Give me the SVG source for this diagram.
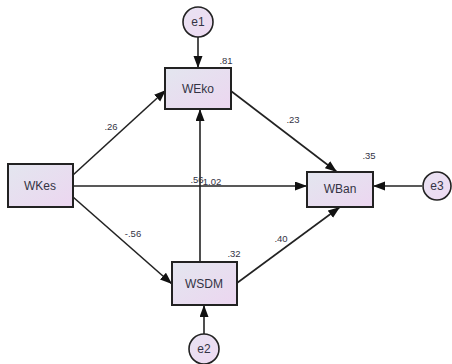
<svg xmlns="http://www.w3.org/2000/svg" width="452" height="364" viewBox="0 0 452 364">
  <defs>
    <linearGradient id="boxFill" x1="0" y1="0" x2="1" y2="1">
      <stop offset="0" stop-color="#e3e6ef"/>
      <stop offset="1" stop-color="#ecd6f0"/>
    </linearGradient>
    <linearGradient id="circFill" x1="0" y1="0" x2="1" y2="1">
      <stop offset="0" stop-color="#e8e2f2"/>
      <stop offset="1" stop-color="#eedaf2"/>
    </linearGradient>
    <marker id="arr" markerUnits="userSpaceOnUse" markerWidth="13" markerHeight="10" refX="12" refY="4.5" orient="auto">
      <path d="M0,0 L12,4.5 L0,9 z" fill="#111"/>
    </marker>
    <style>
      .box { fill: url(#boxFill); stroke: #222; stroke-width: 2; }
      .circ { fill: url(#circFill); stroke: #222; stroke-width: 1.6; }
      .lbl { font-family: "Liberation Sans", Arial, sans-serif; font-size: 12px; fill: #333344; text-anchor: middle; dominant-baseline: central; }
      .num { font-family: "Liberation Sans", Arial, sans-serif; font-size: 9.5px; fill: #333344; text-anchor: middle; dominant-baseline: central; }
      .edge { stroke: #222; stroke-width: 1.6; fill: none; marker-end: url(#arr); }
      .line { stroke: #222; stroke-width: 1.6; fill: none; }
    </style>
  </defs>

  <g id="connectors">
    <line class="edge" x1="198" y1="37" x2="198" y2="68"/>
    <line class="edge" x1="204" y1="334" x2="204" y2="305"/>
    <line class="edge" x1="422" y1="186" x2="373" y2="186"/>
    <line class="edge" x1="73" y1="175" x2="166" y2="90"/>
    <line class="edge" x1="73" y1="186" x2="307" y2="186"/>
    <line class="edge" x1="73" y1="197" x2="172" y2="284"/>
    <line class="edge" x1="200" y1="262" x2="200" y2="109"/>
    <line class="edge" x1="231" y1="91" x2="337" y2="172"/>
    <line class="edge" x1="237" y1="283" x2="340" y2="207"/>
    <text class="num" x="111" y="126">.26</text>
    <text class="num" x="133" y="233">-.56</text>
    <text class="num" x="197" y="179">.56</text>
    <text class="num" x="212" y="181">1.02</text>
    <text class="num" x="293" y="119">.23</text>
    <text class="num" x="281" y="238">.40</text>
  </g>

  <g id="e1">
    <circle class="circ" cx="198" cy="22" r="15"/>
    <text class="lbl" x="198" y="22">e1</text>
  </g>
  <g id="WEko">
    <rect class="box" x="165" y="68" width="66" height="41"/>
    <text class="lbl" x="198" y="89">WEko</text>
    <text class="num" x="226" y="60">.81</text>
  </g>
  <g id="WKes">
    <rect class="box" x="8" y="164" width="65" height="43"/>
    <text class="lbl" x="40" y="186">WKes</text>
  </g>
  <g id="WBan">
    <rect class="box" x="307" y="172" width="66" height="35"/>
    <text class="lbl" x="340" y="189">WBan</text>
    <text class="num" x="369" y="155">.35</text>
  </g>
  <g id="e3">
    <circle class="circ" cx="437" cy="186" r="14"/>
    <text class="lbl" x="437" y="186">e3</text>
  </g>
  <g id="WSDM">
    <rect class="box" x="172" y="262" width="65" height="43"/>
    <text class="lbl" x="204" y="284">WSDM</text>
    <text class="num" x="234" y="253">.32</text>
  </g>
  <g id="e2">
    <circle class="circ" cx="204" cy="349" r="15"/>
    <text class="lbl" x="204" y="349">e2</text>
  </g>
</svg>
